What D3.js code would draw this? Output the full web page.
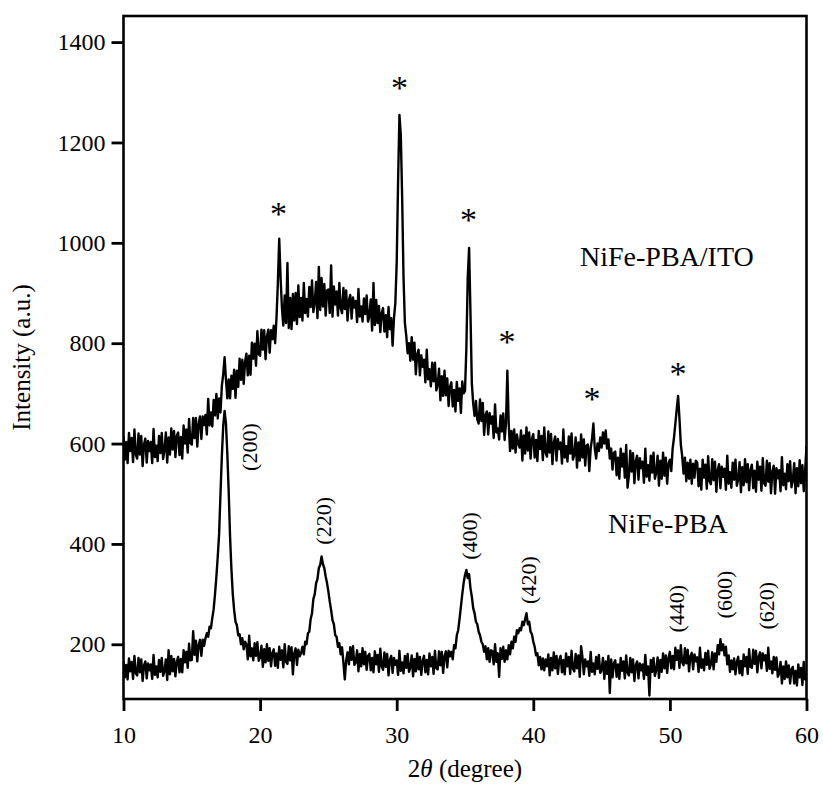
<!DOCTYPE html>
<html><head><meta charset="utf-8">
<script src="https://cdn.jsdelivr.net/npm/d3@7"></script>
<style>
body{margin:0;background:#fff}
svg text{font-family:"Liberation Serif","Times New Roman",Times,serif;fill:#000}
</style>
</head><body>
<svg id="chart" width="823" height="788"></svg>
<script>
// ---- data (2θ from 10° to 60° in 0.1° steps) ----
const twoThetaStart = 10;
const twoThetaStep = 0.1;

const itoIntensity = [
615,568,603,561,621,585,611,563,628,578,
570,620,578,615,555,598,610,562,605,585,
603,561,629,573,596,565,615,581,621,569,
587,622,562,612,578,630,588,625,573,615,
622,577,613,570,636,600,628,582,649,601,
598,651,611,651,594,639,654,609,654,637,
657,618,689,636,662,634,687,656,699,650,
690,662,715,738,772,728,690,728,690,735,
709,747,691,745,713,769,727,767,719,763,
779,736,775,737,801,769,799,755,824,778,
775,827,787,826,768,813,827,781,826,808,
835,800,850,920,1008,930,870,835,895,840,
960,830,890,828,898,845,900,838,915,852,
890,845,920,860,888,853,912,872,925,862,
880,922,850,952,866,930,873,918,855,905,
907,860,955,853,913,877,903,855,920,870,
860,910,868,905,845,886,896,849,891,871,
884,842,908,853,873,843,889,858,895,843,
854,887,825,920,836,886,840,874,822,860,
870,823,856,812,872,828,850,795,850,880,
960,1120,1255,1215,1090,930,840,815,780,800,
765,812,767,801,738,778,787,736,776,753,
767,722,787,728,748,714,761,724,761,706,
717,749,686,734,695,745,696,730,675,713,
722,674,707,664,723,685,710,661,724,700,
705,790,930,990,860,720,680,655,685,648,
640,688,645,681,617,656,664,618,661,640,
654,611,678,622,630,608,656,624,660,607,
640,745,640,585,625,590,628,582,618,600,
592,626,566,616,580,632,586,622,570,610,
619,572,607,565,625,589,615,567,632,582,
574,624,582,619,559,602,614,566,609,589,
602,560,628,572,595,564,614,580,620,568,
578,612,552,602,566,618,572,608,556,596,
598,545,590,610,640,590,570,600,585,612,
592,622,600,626,590,608,570,590,548,582,
584,537,572,530,590,554,580,532,597,512,
536,586,544,581,521,564,576,528,571,551,
564,522,590,534,557,526,576,542,582,530,
542,576,516,566,530,582,536,572,520,560,
568,545,590,612,640,668,695,650,598,575,
540,572,525,562,530,568,520,560,532,566,
562,515,550,508,568,532,558,510,575,525,
519,569,527,564,504,547,559,511,554,534,
550,508,576,520,543,512,562,528,568,516,
529,563,503,553,517,569,523,559,507,547,
558,511,546,504,564,528,554,506,571,521,
516,566,524,561,501,544,556,500,551,531,
547,505,573,517,540,509,559,525,565,513,
527,561,501,551,515,567,521,557,505,545,
595];

const pbaIntensity = [
167,134,159,130,172,146,165,131,177,142,
138,173,144,170,127,158,166,132,162,148,
160,131,179,139,156,134,169,145,173,137,
146,170,129,188,140,177,146,171,136,165,
175,144,171,144,188,164,185,153,201,168,
169,226,179,207,166,199,209,177,209,197,
212,222,215,235,232,252,270,300,335,375,
420,500,575,635,665,640,580,505,415,350,
300,268,245,238,218,220,200,212,190,205,
200,170,217,176,192,168,202,177,204,167,
174,197,155,190,164,200,167,192,156,183,
190,157,182,153,195,169,188,154,200,165,
161,196,168,194,140,182,192,159,189,176,
182,195,180,205,200,222,225,250,262,290,
300,322,330,352,358,375,360,352,335,322,
305,285,268,248,240,218,215,195,202,180,
194,163,130,168,184,160,194,169,196,159,
164,188,146,181,156,192,160,185,149,177,
181,148,173,144,186,160,179,145,191,156,
149,184,155,181,138,169,177,143,173,159,
168,139,187,147,164,142,177,153,181,145,
154,178,136,171,146,182,150,175,139,167,
177,144,169,140,182,156,175,141,187,152,
150,186,158,185,143,176,186,154,187,176,
185,170,198,192,218,228,250,275,300,322,
338,348,332,340,312,295,272,262,245,240,
225,218,205,200,185,196,170,192,165,188,
186,160,200,165,182,135,192,171,195,165,
188,170,198,180,205,192,215,205,228,222,
232,228,245,238,250,262,240,245,225,220,
205,195,178,182,158,175,150,172,148,170,
156,180,138,173,148,184,152,177,141,169,
177,144,169,140,182,156,175,141,187,152,
146,181,152,178,135,196,174,140,170,156,
166,137,185,145,162,140,175,151,179,143,
149,173,131,166,141,177,103,170,134,162,
168,135,160,131,173,147,166,132,178,143,
138,173,144,170,127,158,166,132,162,148,
160,131,179,139,156,98,169,145,173,137,
149,174,133,169,145,182,152,178,143,173,
185,152,177,150,193,169,188,153,198,164,
158,192,162,189,146,176,183,150,180,166,
174,145,193,153,170,148,183,159,187,151,
160,184,150,182,165,198,180,210,188,200,
178,195,160,178,145,168,150,172,140,165,
175,142,167,138,180,156,175,141,190,155,
153,189,161,187,144,175,184,152,182,168,
178,147,193,151,166,142,175,149,174,135,
142,165,122,156,131,166,134,158,122,150,
155,122,147,118,160,134,153,119,165,130,
140];

const xTickValues = [10, 20, 30, 40, 50, 60];
const yTickValues = [200, 400, 600, 800, 1000, 1200, 1400];

// ITO reflections marked with "*"
const starTheta     = [21.35, 30.2, 35.25, 38.07, 44.3, 50.6];
const starIntensity = [1067, 1318, 1055, 812, 699, 748];

// Miller indices of NiFe-PBA reflections
const hklText      = ["(200)", "(220)", "(400)", "(420)", "(440)", "(600)", "(620)"];
const hklTheta     = [19.19, 24.6, 35.28, 39.6, 50.45, 53.96, 57.03];
const hklIntensity = [593, 446, 416, 328, 271, 299, 277];

const seriesNames     = ["NiFe-PBA/ITO", "NiFe-PBA"];
const seriesNameTheta = [43.42, 45.47];
const seriesNameInt   = [954, 422];

// ---- layout ----
const FONT = '"Liberation Serif","Times New Roman",Times,serif';
const plot = {left: 123.5, right: 806.5, top: 16, bottom: 699};
const svg = d3.select("#chart");

const x = d3.scaleLinear().domain([10, 60]).range([plot.left, plot.right]);
const y = d3.scaleLinear().domain([91, 1452]).range([plot.bottom, plot.top]);

const toPoints = arr => arr.map((v, i) => [twoThetaStart + i * twoThetaStep, v]);

svg.append("clipPath").attr("id", "clip")
  .append("rect")
  .attr("x", plot.left).attr("y", plot.top)
  .attr("width", plot.right - plot.left).attr("height", plot.bottom - plot.top);

const line = d3.line().x(d => x(d[0])).y(d => y(d[1]));

const g = svg.append("g").attr("clip-path", "url(#clip)");
[itoIntensity, pbaIntensity].forEach(arr => {
  g.append("path")
    .datum(toPoints(arr))
    .attr("d", line)
    .attr("fill", "none")
    .attr("stroke", "#000")
    .attr("stroke-width", 2.4)
    .attr("stroke-linejoin", "round");
});

// axes
const yAxis = d3.axisLeft(y).tickValues(yTickValues).tickFormat(d3.format("d"))
  .tickSize(12).tickPadding(6).tickSizeOuter(0);
const xAxis = d3.axisBottom(x).tickValues(xTickValues).tickFormat(d3.format("d"))
  .tickSize(12).tickPadding(15).tickSizeOuter(0);

const gy = svg.append("g").attr("transform", `translate(${plot.left},0)`).call(yAxis);
const gx = svg.append("g").attr("transform", `translate(0,${plot.bottom})`).call(xAxis);
[gy, gx].forEach(a => {
  a.attr("font-family", FONT).attr("font-size", 24);
  a.select(".domain").remove();
  a.selectAll(".tick line").attr("stroke", "#000").attr("stroke-width", 2.8);
  a.selectAll(".tick text").attr("font-size", 24).attr("fill", "#000")
    .attr("font-family", FONT).style("font-family", FONT);
});

// frame
svg.append("rect")
  .attr("x", plot.left).attr("y", plot.top)
  .attr("width", plot.right - plot.left).attr("height", plot.bottom - plot.top)
  .attr("fill", "none").attr("stroke", "#000").attr("stroke-width", 2.6);

// axis titles
svg.append("text")
  .attr("transform", `translate(29.5,${(plot.top + plot.bottom) / 2}) rotate(-90)`)
  .attr("text-anchor", "middle").attr("font-size", 25)
  .text("Intensity (a.u.)");

const xt = svg.append("text")
  .attr("x", (plot.left + plot.right) / 2).attr("y", 777)
  .attr("text-anchor", "middle").attr("font-size", 25);
xt.append("tspan").text("2");
xt.append("tspan").attr("font-style", "italic").text("θ");
xt.append("tspan").text(" (degree)");

// stars
svg.append("g").selectAll("text")
  .data(starTheta.map((t, i) => [t, starIntensity[i]]))
  .join("text")
  .attr("x", d => x(d[0])).attr("y", d => y(d[1]))
  .attr("dy", "0.47em")
  .attr("text-anchor", "middle").attr("font-size", 34)
  .text("*");

// hkl labels
svg.append("g").selectAll("text")
  .data(hklText.map((t, i) => [hklTheta[i], hklIntensity[i], t]))
  .join("text")
  .attr("transform", d => `translate(${x(d[0])},${y(d[1])}) rotate(-90)`)
  .attr("dy", "0.35em")
  .attr("text-anchor", "middle").attr("font-size", 22)
  .text(d => d[2]);

// series names
svg.append("g").selectAll("text")
  .data(seriesNames.map((n, i) => [seriesNameTheta[i], seriesNameInt[i], n]))
  .join("text")
  .attr("x", d => x(d[0])).attr("y", d => y(d[1]))
  .attr("font-size", 28)
  .text(d => d[2]);
</script>
</body></html>
